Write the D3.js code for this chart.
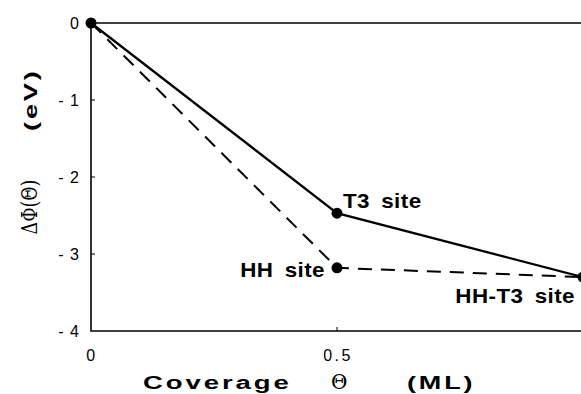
<!DOCTYPE html>
<html>
<head>
<meta charset="utf-8">
<script src="https://cdn.jsdelivr.net/npm/d3@7"></script>
<style>
  body { margin: 0; background: #fff; }
  text { font-family: Arial, "Liberation Sans", sans-serif; fill: #000; }
</style>
</head>
<body>
<div id="chart"></div>
<script>
// data
const coverage = [0, 0.5, 1];
const t3Line = [0, -2.47, -3.3];     // solid: T3 site path
const hhLine = [0, -3.18, -3.3];     // dashed: HH site path
const points = [
  {x: 0, y: 0, label: ""},
  {x: 0.5, y: -2.47, label: "T3 site"},
  {x: 0.5, y: -3.18, label: "HH site"},
  {x: 1, y: -3.3, label: "HH-T3 site"}
];
const yTicks = [0, -1, -2, -3, -4];
const xTicks = [0, 0.5];

const W = 581, H = 394;
const margin = {top: 23, left: 91};

const svg = d3.select("#chart")
  .append("svg")
  .attr("width", W)
  .attr("height", H);

const x = d3.scaleLinear().domain([0, 1]).range([margin.left, 583]);
const y = d3.scaleLinear().domain([-4, 0]).range([331, margin.top]);

// frame: top, left, bottom
svg.append("path")
  .attr("d", `M${W + 5},${y(0)}H${x(0)}V${y(-4)}H${W + 5}`)
  .attr("fill", "none")
  .attr("stroke", "#000")
  .attr("stroke-width", 1.6);

// y ticks (inward) and labels
svg.selectAll(".ytick")
  .data(yTicks.filter(d => d !== 0 && d !== -4))
  .enter().append("line")
  .attr("x1", x(0)).attr("x2", x(0) + 4)
  .attr("y1", d => y(d)).attr("y2", d => y(d))
  .attr("stroke", "#000");

svg.selectAll(".ylab")
  .data(yTicks)
  .enter().append("text")
  .attr("x", 80)
  .attr("y", d => y(d) + 6)
  .attr("text-anchor", "end")
  .style("font-size", "16px")
  .style("letter-spacing", "1px")
  .text(d => d === 0 ? "0" : "- " + Math.abs(d));

// x ticks and labels
svg.selectAll(".xtick")
  .data(xTicks.filter(d => d !== 0))
  .enter().append("line")
  .attr("x1", d => x(d)).attr("x2", d => x(d))
  .attr("y1", y(-4)).attr("y2", y(-4) - 4)
  .attr("stroke", "#000");

svg.selectAll(".xlab")
  .data(xTicks)
  .enter().append("text")
  .attr("x", d => x(d) + 1)
  .attr("y", 361)
  .attr("text-anchor", "middle")
  .style("font-size", "16px")
  .style("letter-spacing", "2.5px")
  .text(d => d === 0 ? "0" : "0.5");

// lines
const line = d3.line()
  .x(d => x(d[0]))
  .y(d => y(d[1]));

svg.append("path")
  .datum(coverage.map((c, i) => [c, t3Line[i]]))
  .attr("d", line)
  .attr("fill", "none")
  .attr("stroke", "#000")
  .attr("stroke-width", 2.3);

svg.append("path")
  .datum(coverage.map((c, i) => [c, hhLine[i]]))
  .attr("d", line)
  .attr("fill", "none")
  .attr("stroke", "#000")
  .attr("stroke-width", 2)
  .attr("stroke-dasharray", "14,9");

// markers
svg.selectAll(".dot")
  .data(points)
  .enter().append("circle")
  .attr("cx", d => x(d.x))
  .attr("cy", d => y(d.y))
  .attr("r", 5.5)
  .attr("fill", "#000");

// point labels (slightly wide bold face, like the original)
const labelPos = {
  "T3 site": {dx: 6, dy: -5, anchor: "start"},
  "HH site": {dx: -12, dy: 9, anchor: "end"},
  "HH-T3 site": {dx: -8, dy: 26, anchor: "end"}
};
svg.selectAll(".plab")
  .data(points.filter(d => d.label))
  .enter().append("g")
  .attr("transform", d => `translate(${x(d.x) + labelPos[d.label].dx},${y(d.y) + labelPos[d.label].dy}) scale(1.12,1)`)
  .append("text")
  .attr("text-anchor", d => labelPos[d.label].anchor)
  .style("font-size", "20px")
  .style("font-weight", "bold")
  .style("letter-spacing", "0.4px")
  .style("word-spacing", "4px")
  .text(d => d.label);

// axis titles, wide letters
function wideText(tx, ty, sx, str, rot) {
  return svg.append("g")
    .attr("transform", `translate(${tx},${ty})` + (rot ? " rotate(-90)" : "") + ` scale(${sx},1)`)
    .append("text")
    .style("font-size", "19px")
    .style("font-weight", "bold")
    .style("letter-spacing", "2px")
    .text(str);
}
wideText(143, 389, 1.45, "Coverage");
wideText(407, 389, 1.42, "(ML)");
svg.append("text")
  .attr("x", 331).attr("y", 389)
  .style("font-family", "DejaVu Serif, serif")
  .style("font-size", "20px")
  .text("Θ");

// y axis title
svg.append("g")
  .attr("transform", "translate(37,207) rotate(-90) scale(0.76,1)")
  .append("text")
  .attr("text-anchor", "middle")
  .style("font-size", "23px")
  .style("font-family", "DejaVu Serif, serif")
  .text("ΔΦ(Θ)");
wideText(37, 131, 1.43, "(eV)", true);
</script>
</body>
</html>
